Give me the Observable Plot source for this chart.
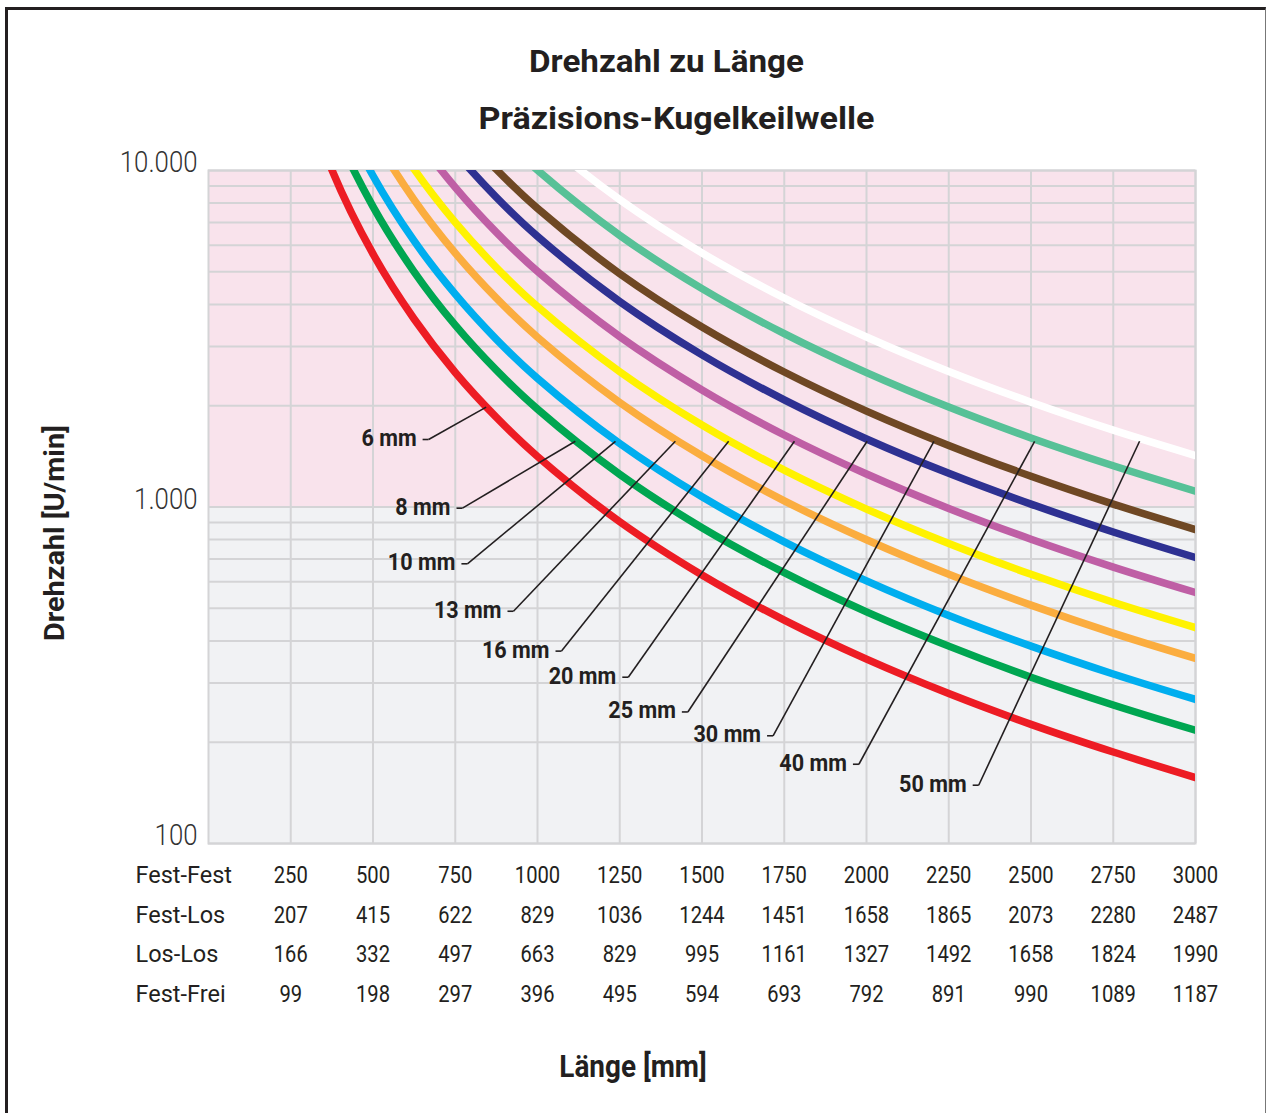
<!DOCTYPE html>
<html lang="de">
<head>
<meta charset="utf-8">
<title>Drehzahl zu Länge – Präzisions-Kugelkeilwelle</title>
<script src="https://cdn.jsdelivr.net/npm/d3@7"></script>
<script src="https://cdn.jsdelivr.net/npm/@observablehq/plot@0.6"></script>
<style>
  html, body { margin: 0; padding: 0; background: #fff; }
  #figure { position: relative; width: 1266px; height: 1113px; overflow: hidden; background: #fff; }
  #border {
    position: absolute; left: 5px; top: 7px; right: 0; bottom: -10px;
    border-top: 3px solid #231f20; border-left: 3px solid #231f20; border-right: 1px solid #777;
  }
  #figure svg { position: absolute; left: 0; top: 0; }
</style>
</head>
<body>
<div id="figure"><div id="border"></div></div>
<script>
// Shaft lengths (mm) at which the speed curves are sampled
const lengths = [250, 375, 500, 625, 750, 875, 1000, 1250, 1500, 1750, 2000, 2250, 2500, 2750, 3000];

// Permissible speed (U/min) per shaft diameter
const rpm6  = [22600, 10050, 5650, 3620, 2510, 1846, 1413, 904, 628, 461, 353, 279, 226, 187, 157];
const rpm8  = [31250, 13890, 7810, 5000, 3470, 2550, 1953, 1250, 868, 638, 488, 386, 312, 258, 217];
const rpm10 = [38590, 17150, 9650, 6175, 4290, 3150, 2412, 1544, 1072, 788, 603, 476, 386, 319, 268];
const rpm13 = [51120, 22720, 12780, 8180, 5680, 4173, 3195, 2045, 1420, 1043, 799, 631, 511, 422, 355];
const rpm16 = [63070, 28030, 15770, 10090, 7010, 5149, 3942, 2523, 1752, 1287, 986, 779, 631, 521, 438];
const rpm20 = [80210, 35650, 20050, 12830, 8910, 6548, 5013, 3208, 2228, 1637, 1253, 990, 802, 663, 557];
const rpm25 = [101950, 45310, 25490, 16310, 11330, 8323, 6372, 4078, 2832, 2081, 1593, 1259, 1020, 843, 708];
const rpm30 = [123410, 54850, 30850, 19750, 13710, 10074, 7713, 4936, 3428, 2519, 1928, 1524, 1234, 1020, 857];
const rpm40 = [160420, 71300, 40100, 25670, 17820, 13095, 10026, 6417, 4456, 3274, 2507, 1981, 1604, 1326, 1114];
const rpm50 = [204770, 91010, 51190, 32760, 22750, 16716, 12798, 8191, 5688, 4179, 3200, 2528, 2048, 1692, 1422];

const diameters = ["6 mm", "8 mm", "10 mm", "13 mm", "16 mm", "20 mm", "25 mm", "30 mm", "40 mm", "50 mm"];
const seriesValues = [rpm6, rpm8, rpm10, rpm13, rpm16, rpm20, rpm25, rpm30, rpm40, rpm50];
const lineColors = ["#ed1c24", "#00a651", "#00aeef", "#fbad3f", "#fff200", "#bf5fa5", "#2e3192", "#6f4824", "#57c197", "#ffffff"];

// Leader lines: where each diameter label sits and the point on its curve it points to
const labelLength = [669, 772, 787, 927, 1073, 1276, 1457, 1716, 1977, 2341];
const labelRpm    = [1587, 992, 678, 490, 373, 312, 246, 209, 172, 149];
const pointLength = [844, 1115, 1237, 1419, 1581, 1781, 2002, 2205, 2511, 2830];
const pointRpm    = [1980, 1568, 1568, 1568, 1568, 1568, 1568, 1568, 1568, 1568];

// Length table under the chart: same positions for the four bearing arrangements
const rowNames = ["Fest-Fest", "Fest-Los", "Los-Los", "Fest-Frei"];
const festFest = [250, 500, 750, 1000, 1250, 1500, 1750, 2000, 2250, 2500, 2750, 3000];
const festLos  = [207, 415, 622, 829, 1036, 1244, 1451, 1658, 1865, 2073, 2280, 2487];
const losLos   = [166, 332, 497, 663, 829, 995, 1161, 1327, 1492, 1658, 1824, 1990];
const festFrei = [99, 198, 297, 396, 495, 594, 693, 792, 891, 990, 1089, 1187];
const tableRows = [festFest, festLos, losLos, festFrei];

// Speed axis
const yTicks = [100, 1000, 10000];
const yTickLabels = ["100", "1.000", "10.000"];
const lengthDomain = [0, 3000];
const rpmDomain = [100, 10000];
const upperZone = [1000, 10000];
const lowerZone = [100, 1000];

// Long-format table for the line marks
const curves = diameters.flatMap((d, k) =>
  lengths.map((L, i) => ({diameter: d, length: L, rpm: seriesValues[k][i]}))
);
const leaders = diameters.map((d, k) => ({
  label: d,
  x1: labelLength[k], y1: labelRpm[k],
  x2: pointLength[k], y2: pointRpm[k]
}));

const FONT = 'Roboto, "Liberation Sans", sans-serif';
const INK = "#231f20";
const GRID = "#d4d4d6";

// Short horizontal tick at the start of each leader line
const dash = {draw(context) { context.moveTo(-6, 0); context.lineTo(0, 0); }};

const gridY = d3.scaleLog().domain(rpmDomain).ticks();

const chart = Plot.plot({
  width: 1266,
  height: 1113,
  marginTop: 170,
  marginBottom: 270,
  marginLeft: 208,
  marginRight: 71,
  style: {fontFamily: FONT, background: "transparent", overflow: "visible"},
  x: {domain: lengthDomain},
  y: {type: "log", domain: rpmDomain, axis: null},
  color: {domain: diameters, range: lineColors},
  marks: [
    Plot.rect([upperZone], {y1: d => d[0], y2: d => d[1], fill: "#f9e3ec"}),
    Plot.rect([lowerZone], {y1: d => d[0], y2: d => d[1], fill: "#f1f2f4"}),
    Plot.ruleY(gridY, {stroke: GRID, strokeWidth: 2}),
    Plot.ruleX(festFest, {stroke: GRID, strokeWidth: 2}),
    Plot.frame({stroke: GRID, strokeWidth: 2}),
    Plot.line(curves, {
      x: "length", y: "rpm", z: "diameter", stroke: "diameter",
      strokeWidth: 7.5, curve: "catmull-rom", clip: true
    }),
    Plot.link(leaders, {x1: "x1", y1: "y1", x2: "x2", y2: "y2", stroke: INK, strokeWidth: 1.6}),
    Plot.dot(leaders, {x: "x1", y: "y1", symbol: dash, stroke: INK, strokeWidth: 1.6, fill: "none"}),
    Plot.text(leaders, {
      x: "x1", y: "y1", text: "label", textAnchor: "end", lineAnchor: "middle", dx: -12, dy: -1,
      fontSize: 23.5, fontWeight: "bold", fill: INK
    }),
    // Speed tick labels, baseline sitting on their grid line
    Plot.text(yTicks, {
      y: d => d, text: (d, i) => yTickLabels[i], frameAnchor: "left",
      textAnchor: "end", lineAnchor: "middle", dx: -11, dy: -8,
      fontSize: 30, fontWeight: 300, fill: "#333"
    }),
    ...tableRows.map((row, r) => Plot.axisX(festFest, {
      tickSize: 0, tickPadding: 0, lineAnchor: "middle", dy: 32 + 39.7 * r,
      fontSize: 23.5, color: INK, tickFormat: (d, i) => String(row[i]), label: null
    })),
    ...rowNames.map((name, r) => Plot.text([name], {
      frameAnchor: "bottom-left", textAnchor: "start", lineAnchor: "middle", dx: -73, dy: 32 + 39.7 * r,
      fontSize: 23.5, fill: INK
    })),
    Plot.text(["Drehzahl zu Länge"], {
      frameAnchor: "top", lineAnchor: "middle", dx: -35.5, dy: -108,
      fontSize: 31, fontWeight: "bold", fill: INK
    }),
    Plot.text(["Präzisions-Kugelkeilwelle"], {
      frameAnchor: "top", lineAnchor: "middle", dx: -25.5, dy: -51,
      fontSize: 31, fontWeight: "bold", fill: INK
    }),
    Plot.text(["Drehzahl [U/min]"], {
      frameAnchor: "left", textAnchor: "middle", lineAnchor: "middle", dx: -153, dy: 26, rotate: -90,
      fontSize: 27.5, fontWeight: "bold", fill: INK
    }),
    Plot.text(["Länge [mm]"], {
      frameAnchor: "bottom", lineAnchor: "middle", dx: -69, dy: 224,
      fontSize: 31, fontWeight: "bold", fill: INK
    })
  ]
});

// Horizontal glyph scaling per text, for a condensed typeface look; each text is
// positioned by its transform, so the scale is appended and the anchor stays put
const widthScale = new Map([
  ["Drehzahl zu Länge", 1.07],
  ["Präzisions-Kugelkeilwelle", 1.1],
  ["Drehzahl [U/min]", 1.05],
  ["Länge [mm]", 0.9]
]);
chart.querySelectorAll("text").forEach(t => {
  const s = t.textContent;
  const k = widthScale.get(s) ?? (/^\d+ mm$/.test(s) ? 0.92 : /^[\d.]+$/.test(s) ? 0.86 : 1);
  if (k === 1) return;
  const tr = t.getAttribute("transform") || "";
  t.setAttribute("transform", `${tr} scale(${k},1)`.trim());
});

document.getElementById("figure").appendChild(chart);
</script>
</body>
</html>
